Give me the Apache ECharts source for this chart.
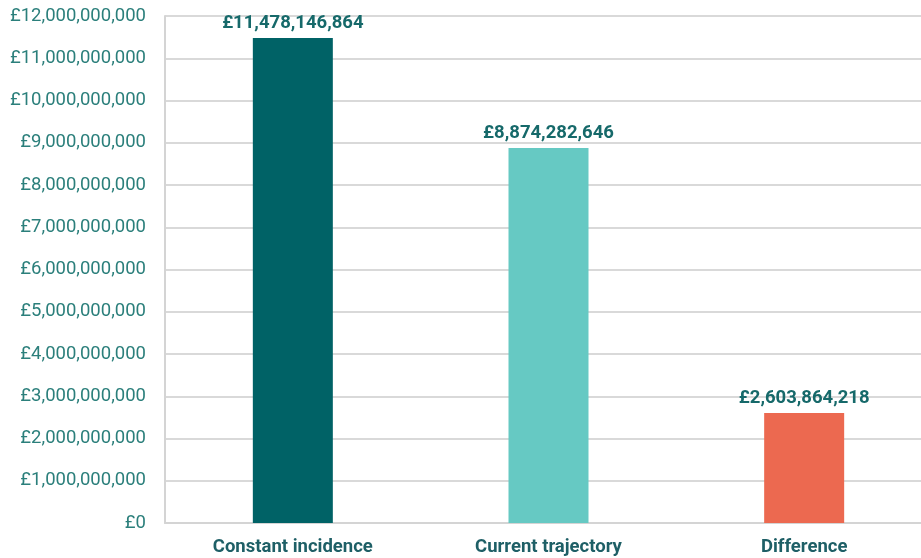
<!DOCTYPE html>
<html>
<head>
<meta charset="utf-8">
<script src="https://cdn.jsdelivr.net/npm/echarts@6/dist/echarts.min.js"></script>
<style>
  html, body { margin: 0; padding: 0; background: #fff; overflow: hidden; }
  #chart { width: 932px; height: 558px; }
</style>
</head>
<body>
<div id="chart"></div>
<script>
const categories = ['Constant incidence', 'Current trajectory', 'Difference'];
const values = [11478146864, 8874282646, 2603864218];
const barColors = ['#006266', '#66c9c3', '#ec6950'];

const fmt = v => '£' + Math.round(v).toLocaleString('en-GB');

const chart = echarts.init(document.getElementById('chart'));
chart.setOption({
  animation: false,
  grid: { left: 165, right: 0, top: 16, bottom: 35, containLabel: false },
  xAxis: {
    type: 'category',
    data: categories,
    axisLine: { show: true, lineStyle: { color: '#d4d4d4', width: 2 } },
    axisTick: { show: false },
    axisLabel: {
      margin: 15,
      color: '#1e5f66',
      fontFamily: 'Roboto',
      fontWeight: 'bold',
      fontSize: 18.5
    }
  },
  yAxis: {
    type: 'value',
    min: 0,
    max: 12000000000,
    interval: 1000000000,
    axisLine: { show: true, lineStyle: { color: '#d4d4d4', width: 2 } },
    axisTick: { show: false },
    splitLine: { lineStyle: { color: '#d9d9d9', width: 2 } },
    axisLabel: {
      margin: 19,
      color: '#2b7f7b',
      fontFamily: 'Roboto',
      fontSize: 18.5,
      formatter: v => fmt(v)
    }
  },
  series: [{
    type: 'bar',
    barWidth: 80,
    data: values.map((v, i) => ({ value: v, itemStyle: { color: barColors[i] } })),
    label: {
      show: true,
      position: 'top',
      distance: 5,
      color: '#16696a',
      fontFamily: 'Roboto',
      fontWeight: 'bold',
      fontSize: 18.5,
      formatter: p => fmt(p.value)
    }
  }]
});
</script>
</body>
</html>
